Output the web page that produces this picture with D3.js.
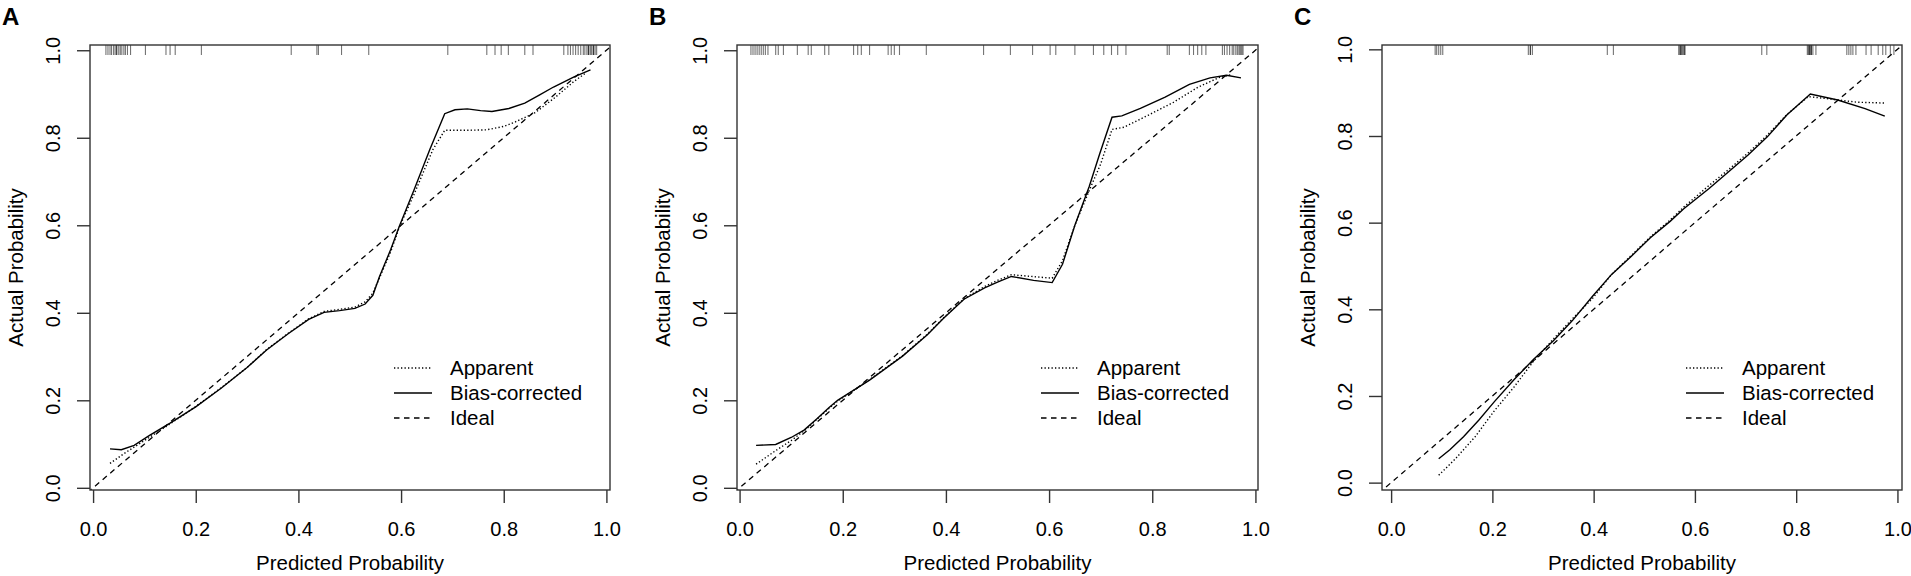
<!DOCTYPE html>
<html>
<head>
<meta charset="utf-8">
<script src="https://cdn.jsdelivr.net/npm/d3@7"></script>
<style>
  body { margin: 0; background: #fff; }
  text { font-family: "Liberation Sans", Arial, sans-serif; fill: #000; }
</style>
</head>
<body>
<div id="chart"></div>
<script>
// tick values and labels shared by all three panels
var ticks = [0, 0.2, 0.4, 0.6, 0.8, 1.0];
var tickLabels = ["0.0", "0.2", "0.4", "0.6", "0.8", "1.0"];
var panelNames = ["A", "B", "C"];
var legendNames = ["Apparent", "Bias-corrected", "Ideal"];
var ideal = [[-0.1, -0.1], [1.1, 1.1]];

// panel A
var apparentA = [[0.033,0.056],[0.06,0.078],[0.1,0.108],[0.15,0.146],[0.2,0.186],[0.25,0.229],[0.3,0.275],[0.338,0.316],[0.38,0.353],[0.42,0.386],[0.45,0.403],[0.48,0.408],[0.51,0.413],[0.53,0.425],[0.545,0.445],[0.558,0.48],[0.58,0.54],[0.597,0.597],[0.625,0.67],[0.662,0.773],[0.685,0.817],[0.72,0.817],[0.766,0.818],[0.8,0.826],[0.822,0.836],[0.862,0.858],[0.9,0.892],[0.937,0.929],[0.96,0.948]];
var biasA = [[0.033,0.089],[0.055,0.087],[0.08,0.097],[0.11,0.12],[0.15,0.148],[0.2,0.185],[0.25,0.228],[0.3,0.275],[0.338,0.315],[0.38,0.352],[0.42,0.385],[0.45,0.401],[0.48,0.405],[0.51,0.41],[0.53,0.42],[0.545,0.44],[0.558,0.483],[0.58,0.545],[0.597,0.599],[0.625,0.68],[0.656,0.773],[0.685,0.855],[0.705,0.864],[0.729,0.866],[0.755,0.862],[0.777,0.86],[0.81,0.867],[0.841,0.879],[0.87,0.898],[0.897,0.916],[0.937,0.939],[0.969,0.955]];
var rugA = [0.025,0.029,0.033,0.036,0.04,0.043,0.046,0.046,0.05,0.053,0.056,0.06,0.063,0.067,0.073,0.102,0.142,0.15,0.16,0.211,0.386,0.436,0.439,0.484,0.537,0.691,0.767,0.783,0.795,0.809,0.841,0.857,0.917,0.925,0.93,0.935,0.94,0.945,0.95,0.955,0.958,0.962,0.965,0.965,0.968,0.97,0.972,0.975,0.975,0.978,0.981];

// panel B
var apparentB = [[0.032,0.054],[0.07,0.085],[0.1,0.108],[0.13,0.135],[0.17,0.178],[0.19,0.198],[0.252,0.247],[0.316,0.302],[0.364,0.351],[0.395,0.388],[0.435,0.432],[0.475,0.46],[0.5,0.474],[0.527,0.487],[0.606,0.479],[0.626,0.519],[0.65,0.6],[0.678,0.68],[0.7,0.74],[0.722,0.819],[0.745,0.824],[0.793,0.852],[0.841,0.881],[0.888,0.915],[0.928,0.937],[0.952,0.944]];
var biasB = [[0.032,0.097],[0.07,0.099],[0.1,0.115],[0.125,0.132],[0.15,0.158],[0.173,0.183],[0.19,0.2],[0.252,0.246],[0.316,0.301],[0.364,0.35],[0.395,0.387],[0.435,0.431],[0.475,0.457],[0.5,0.47],[0.527,0.483],[0.57,0.474],[0.606,0.469],[0.626,0.511],[0.65,0.6],[0.678,0.689],[0.698,0.763],[0.722,0.847],[0.741,0.85],[0.777,0.867],[0.825,0.893],[0.872,0.922],[0.912,0.937],[0.944,0.943],[0.972,0.937]];
var rugB = [0.022,0.026,0.03,0.034,0.038,0.042,0.046,0.05,0.055,0.07,0.075,0.085,0.112,0.133,0.139,0.165,0.173,0.221,0.229,0.236,0.252,0.288,0.294,0.3,0.31,0.362,0.473,0.525,0.568,0.602,0.613,0.65,0.686,0.706,0.721,0.733,0.749,0.829,0.833,0.872,0.88,0.888,0.896,0.904,0.936,0.94,0.945,0.95,0.955,0.958,0.962,0.965,0.968,0.97,0.972,0.974,0.976];

// panel C
var apparentC = [[0.094,0.017],[0.127,0.055],[0.166,0.106],[0.204,0.166],[0.243,0.221],[0.281,0.28],[0.32,0.331],[0.358,0.378],[0.397,0.424],[0.435,0.48],[0.474,0.524],[0.512,0.567],[0.551,0.606],[0.578,0.636],[0.628,0.686],[0.666,0.722],[0.705,0.761],[0.743,0.802],[0.782,0.85],[0.824,0.891],[0.87,0.885],[0.92,0.878],[0.975,0.876]];
var biasC = [[0.094,0.055],[0.116,0.076],[0.143,0.106],[0.173,0.144],[0.204,0.187],[0.243,0.238],[0.281,0.284],[0.32,0.327],[0.358,0.374],[0.397,0.429],[0.435,0.48],[0.474,0.522],[0.512,0.565],[0.551,0.603],[0.578,0.632],[0.628,0.679],[0.666,0.717],[0.705,0.756],[0.743,0.798],[0.782,0.849],[0.828,0.897],[0.882,0.883],[0.936,0.863],[0.975,0.846]];
var rugC = [0.087,0.09,0.094,0.098,0.102,0.271,0.275,0.275,0.279,0.427,0.439,0.568,0.57,0.572,0.572,0.574,0.576,0.578,0.58,0.58,0.732,0.742,0.822,0.824,0.826,0.826,0.828,0.83,0.83,0.833,0.839,0.9,0.904,0.908,0.912,0.918,0.938,0.948,0.962,0.971,0.977,0.986,0.993];

var svgWidth = 1911;
var svgHeight = 576;
var boxTop = 45;
var boxBottom = 490;

var panels = [
  { name: panelNames[0], left: 90, right: 610, xd: [-0.006, 1.007], yd: [-0.005, 1.012],
    apparent: apparentA, bias: biasA, rug: rugA },
  { name: panelNames[1], left: 737, right: 1258, xd: [-0.005, 1.005], yd: [-0.005, 1.012],
    apparent: apparentB, bias: biasB, rug: rugB },
  { name: panelNames[2], left: 1382, right: 1902, xd: [-0.018, 1.009], yd: [-0.017, 1.01],
    apparent: apparentC, bias: biasC, rug: rugC }
];

var svg = d3.select("#chart")
    .append("svg")
    .attr("width", svgWidth)
    .attr("height", svgHeight);

var dashIdeal = "5.5,4.5";
var dashApparent = "1.3,2.2";

panels.forEach(function(p, i) {
    var x = d3.scaleLinear().domain(p.xd).range([p.left, p.right]);
    var y = d3.scaleLinear().domain(p.yd).range([boxBottom, boxTop]);

    var g = svg.append("g");

    svg.append("clipPath")
        .attr("id", "clip" + i)
        .append("rect")
        .attr("x", p.left)
        .attr("y", boxTop)
        .attr("width", p.right - p.left)
        .attr("height", boxBottom - boxTop);

    var line = d3.line()
        .x(d => x(d[0]))
        .y(d => y(d[1]));

    // rug of predicted values along the top
    g.selectAll(".rug")
        .data(p.rug)
        .enter()
        .append("line")
        .attr("x1", d => x(d))
        .attr("x2", d => x(d))
        .attr("y1", boxTop)
        .attr("y2", boxTop + 10)
        .attr("stroke", "#000")
        .attr("stroke-opacity", 0.55)
        .attr("stroke-width", 1.1);

    // ideal line
    g.append("path")
        .datum(ideal)
        .attr("clip-path", "url(#clip" + i + ")")
        .attr("d", line)
        .attr("fill", "none")
        .attr("stroke", "#000")
        .attr("stroke-width", 1.3)
        .attr("stroke-dasharray", dashIdeal);

    // apparent
    g.append("path")
        .datum(p.apparent)
        .attr("d", line)
        .attr("fill", "none")
        .attr("stroke", "#000")
        .attr("stroke-width", 1.4)
        .attr("stroke-dasharray", dashApparent);

    // bias-corrected
    g.append("path")
        .datum(p.bias)
        .attr("d", line)
        .attr("fill", "none")
        .attr("stroke", "#000")
        .attr("stroke-width", 1.4);

    // box
    g.append("rect")
        .attr("x", p.left)
        .attr("y", boxTop)
        .attr("width", p.right - p.left)
        .attr("height", boxBottom - boxTop)
        .attr("fill", "none")
        .attr("stroke", "#333")
        .attr("stroke-width", 1.4);

    // x axis
    var bottomAxis = d3.axisBottom(x)
        .tickValues(ticks)
        .tickFormat((d, k) => tickLabels[k])
        .tickSize(13)
        .tickPadding(0);
    var xg = g.append("g")
        .attr("transform", `translate(0, ${boxBottom})`)
        .call(bottomAxis);
    xg.select(".domain").remove();
    xg.selectAll(".tick line").attr("stroke", "#333").attr("stroke-width", 1.4);
    xg.selectAll(".tick text")
        .attr("y", 46)
        .attr("dy", null)
        .style("font-size", "20px")
        .attr("font-family", null);

    // y axis, labels turned like R's las = 0
    var leftAxis = d3.axisLeft(y)
        .tickValues(ticks)
        .tickFormat((d, k) => tickLabels[k])
        .tickSize(13);
    var yg = g.append("g")
        .attr("transform", `translate(${p.left}, 0)`)
        .call(leftAxis);
    yg.select(".domain").remove();
    yg.selectAll(".tick line").attr("stroke", "#333").attr("stroke-width", 1.4);
    yg.selectAll(".tick text")
        .attr("x", null)
        .attr("dy", null)
        .attr("text-anchor", "middle")
        .attr("transform", "translate(-30, 0) rotate(-90)")
        .style("font-size", "20px")
        .attr("font-family", null);

    // axis titles
    g.append("text")
        .attr("x", (p.left + p.right) / 2)
        .attr("y", 570)
        .attr("text-anchor", "middle")
        .style("font-size", "20.5px")
        .text("Predicted Probability");

    g.append("text")
        .attr("transform", `translate(${p.left - 67}, ${(boxTop + boxBottom) / 2}) rotate(-90)`)
        .attr("text-anchor", "middle")
        .style("font-size", "20.5px")
        .text("Actual Probability");

    // panel letter
    g.append("text")
        .attr("x", p.left - 88)
        .attr("y", 25)
        .style("font-size", "24px")
        .style("font-weight", "bold")
        .text(p.name);

    // legend
    var dashes = [dashApparent, null, dashIdeal];
    var legend = g.selectAll(".legend")
        .data(legendNames)
        .enter()
        .append("g")
        .attr("transform", (d, k) => `translate(${p.left}, ${368 + k * 25})`);
    legend.append("line")
        .attr("x1", 304)
        .attr("x2", 342)
        .attr("stroke", "#000")
        .attr("stroke-width", 1.4)
        .attr("stroke-dasharray", (d, k) => dashes[k]);
    legend.append("text")
        .attr("x", 360)
        .attr("y", 7)
        .style("font-size", "20.5px")
        .text(d => d);
});
</script>
</body>
</html>
